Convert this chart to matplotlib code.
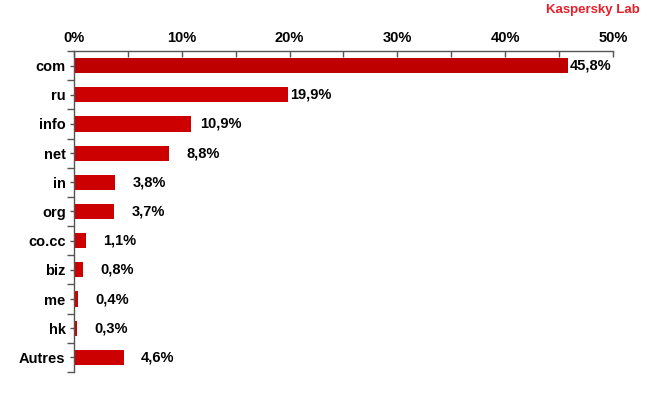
import numpy as np
import matplotlib.pyplot as plt

plt.rcParams['font.family'] = ['Liberation Sans', 'DejaVu Sans']

categories = ['com', 'ru', 'info', 'net', 'in', 'org', 'co.cc', 'biz', 'me', 'hk', 'Autres']
values = [45.8, 19.9, 10.9, 8.8, 3.8, 3.7, 1.1, 0.8, 0.4, 0.3, 4.6]
xticks = [0, 10, 20, 30, 40, 50]

colors = ['#bf0000'] + ['#cc0000'] * (len(values) - 1)

fig = plt.figure(figsize=(6.5, 4), dpi=100)
ax = fig.add_axes([0.1138, 0.07, 0.8292, 0.8025])

y = np.arange(len(categories))
ax.barh(y, values, height=0.52, color=colors, edgecolor='none')

ax.set_xlim(0, 50)
ax.set_ylim(len(categories) - 0.5, -0.5)

# labels: pad depends on bar length, like the original Excel chart
for yi, v in zip(y, values):
    if v >= 15:
        pad = 1.5
    elif v >= 10:
        pad = 6
    else:
        pad = 12.5
    ax.annotate(f'{v:.1f}%'.replace('.', ','), (v, yi), xytext=(pad, 0),
                textcoords='offset points', va='center', ha='left',
                fontsize=10.5, fontweight='bold')

ax.xaxis.tick_top()
ax.set_xticks(xticks)
ax.set_xticklabels([f'{t}%' for t in xticks], fontsize=10.5, fontweight='bold')
ax.set_xticks(np.arange(5, 50, 10), minor=True)
ax.tick_params(axis='x', which='both', direction='in', length=4, width=1,
               color='#555555', pad=4)

ax.set_yticks(y)
ax.set_yticklabels(categories, fontsize=10.5, fontweight='bold')
ax.set_yticks(np.arange(-0.5, len(categories), 1), minor=True)
ax.tick_params(axis='y', which='major', direction='out', length=3, width=1,
               color='#555555', pad=3)
ax.tick_params(axis='y', which='minor', direction='out', length=5, width=1,
               color='#555555')

for s in ['right', 'bottom']:
    ax.spines[s].set_visible(False)
for s in ['top', 'left']:
    ax.spines[s].set_color('#555555')
    ax.spines[s].set_linewidth(1)

fig.text(0.985, 0.99, 'Kaspersky Lab', color='#e8202a', fontsize=9.5,
         fontweight='bold', ha='right', va='top')

fig.savefig('out.png', dpi=100)
